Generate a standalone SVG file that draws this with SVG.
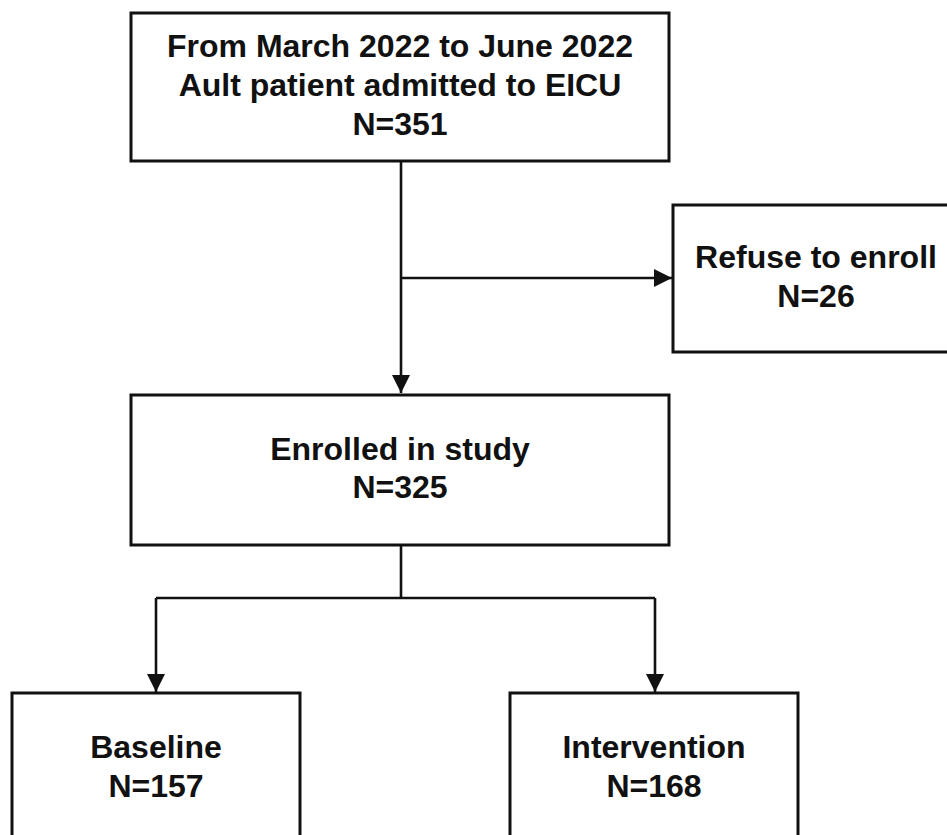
<svg xmlns="http://www.w3.org/2000/svg" width="947" height="835" viewBox="0 0 947 835">
<style>
.box{fill:#fff;stroke:#111;stroke-width:3}
.ln{fill:none;stroke:#111;stroke-width:2.6}
.t{font-family:"Liberation Sans",Arial,sans-serif;font-weight:bold;font-size:32px;fill:#111;text-anchor:middle}
</style>
<defs>
<marker id="arr" markerUnits="userSpaceOnUse" markerWidth="20" markerHeight="20" viewBox="0 0 20 20" refX="18" refY="10" orient="auto">
<path d="M0,1 L18,10 L0,19 Z" fill="#111"/>
</marker>
</defs>
<rect width="947" height="835" fill="#fff"/>
<g id="connectors">
<path class="ln" d="M401,161 V393" marker-end="url(#arr)"/>
<path class="ln" d="M401,278 H672" marker-end="url(#arr)"/>
<path class="ln" d="M401,545 V598"/>
<path class="ln" d="M156,598 H655"/>
<path class="ln" d="M156,598 V692" marker-end="url(#arr)"/>
<path class="ln" d="M655,598 V692" marker-end="url(#arr)"/>
</g>
<g id="n_admitted">
<rect class="box" x="131" y="13" width="538" height="148"/>
<text class="t" x="400" y="57">From March 2022 to June 2022</text>
<text class="t" x="400" y="96">Ault patient admitted to EICU</text>
<text class="t" x="400" y="135">N=351</text>
</g>
<g id="n_refuse">
<rect class="box" x="673" y="205" width="290" height="147"/>
<text class="t" x="816" y="268">Refuse to enroll</text>
<text class="t" x="816" y="307">N=26</text>
</g>
<g id="n_enrolled">
<rect class="box" x="131" y="395" width="538" height="150"/>
<text class="t" x="400" y="460">Enrolled in study</text>
<text class="t" x="400" y="498">N=325</text>
</g>
<g id="n_baseline">
<rect class="box" x="12" y="693" width="288" height="160"/>
<text class="t" x="156" y="758">Baseline</text>
<text class="t" x="156" y="797">N=157</text>
</g>
<g id="n_intervention">
<rect class="box" x="510" y="693" width="288" height="160"/>
<text class="t" x="654" y="758">Intervention</text>
<text class="t" x="654" y="797">N=168</text>
</g>
</svg>
